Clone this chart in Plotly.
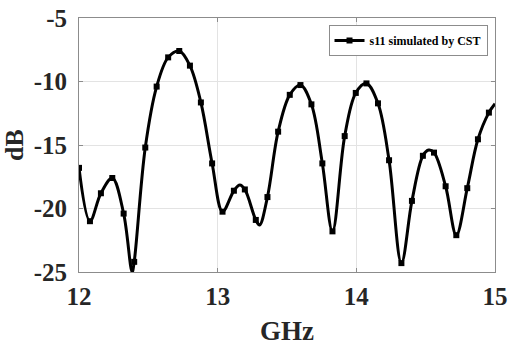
import plotly.graph_objects as go

# Marker samples (GHz, dB)
freq_m = [12.000, 12.079, 12.158, 12.240, 12.322, 12.398, 12.478, 12.560, 12.643, 12.723,
          12.800, 12.879, 12.960, 13.035, 13.117, 13.196, 13.275, 13.359, 13.436, 13.520,
          13.597, 13.676, 13.755, 13.828, 13.916, 13.996, 14.073, 14.156, 14.236, 14.325,
          14.401, 14.480, 14.560, 14.644, 14.721, 14.800, 14.877, 14.956]
s11_m = [-16.8, -21.0, -18.8, -17.6, -20.4, -24.2, -15.2, -10.4, -8.1, -7.6,
         -8.75, -11.65, -16.45, -20.25, -18.6, -18.5, -20.9, -19.1, -13.95, -11.05,
         -10.28, -11.8, -16.45, -21.8, -14.3, -10.9, -10.15, -11.72, -16.2, -24.3,
         -19.4, -15.85, -15.6, -18.25, -22.1, -18.4, -14.55, -12.45]

# Additional curve points (extrema / end)
freq_x = [12.383, 13.160, 13.302, 14.522, 15.000]
s11_x = [-25.0, -18.15, -21.3, -15.4, -11.75]

pts = sorted(zip(freq_m + freq_x, s11_m + s11_x))
freq_line = [p[0] for p in pts]
s11_line = [p[1] for p in pts]

x_ticks = [12, 13, 14, 15]
x_ticktext = ["12", "13", "14", "15"]
y_ticks = [-25, -20, -15, -10, -5]
y_ticktext = ["-25", "-20", "-15", "-10", "-5"]
series_name = "s11 simulated by CST"

font_family = "Liberation Serif"
text_color = "#262626"

fig = go.Figure()
fig.add_trace(go.Scatter(x=freq_line, y=s11_line, mode="lines",
                         line=dict(color="black", width=3, shape="spline", smoothing=1.0),
                         showlegend=False, hoverinfo="skip"))
fig.add_trace(go.Scatter(x=freq_m, y=s11_m, mode="markers",
                         marker=dict(symbol="square", size=6, color="black"),
                         showlegend=False))
fig.add_trace(go.Scatter(x=[None], y=[None], mode="lines+markers", name=series_name,
                         line=dict(color="black", width=3),
                         marker=dict(symbol="square", size=6, color="black")))

axis_common = dict(
    showline=True, linecolor="#8c8c8c", linewidth=1, mirror="ticks",
    showgrid=True, gridcolor="#e3e3e3", gridwidth=1,
    ticks="inside", ticklen=4, tickcolor="#8c8c8c",
    zeroline=False, automargin=False,
    tickfont=dict(family=font_family, size=25, color=text_color, weight="bold"),
)

fig.update_layout(
    width=509, height=346,
    margin=dict(l=79, r=14, t=18, b=74),
    paper_bgcolor="white", plot_bgcolor="white",
    xaxis=dict(range=[12, 15], tickvals=x_ticks, ticktext=x_ticktext, ticklabelstandoff=2,
               title=dict(text="GHz", standoff=12,
                          font=dict(family=font_family, size=27, color=text_color, weight="bold")),
               **axis_common),
    yaxis=dict(range=[-25, -5], tickvals=y_ticks, ticktext=y_ticktext, ticklabelstandoff=6,
               title=dict(text="dB", standoff=4,
                          font=dict(family=font_family, size=26, color=text_color, weight="bold")),
               **axis_common),
    legend=dict(x=0.982, y=0.972, xanchor="right", yanchor="top",
                bgcolor="white", bordercolor="#8c8c8c", borderwidth=1,
                font=dict(family=font_family, size=12, color="black", weight="bold"),
                itemwidth=30, tracegroupgap=0),
    showlegend=True,
)

fig.write_html("out.html")
